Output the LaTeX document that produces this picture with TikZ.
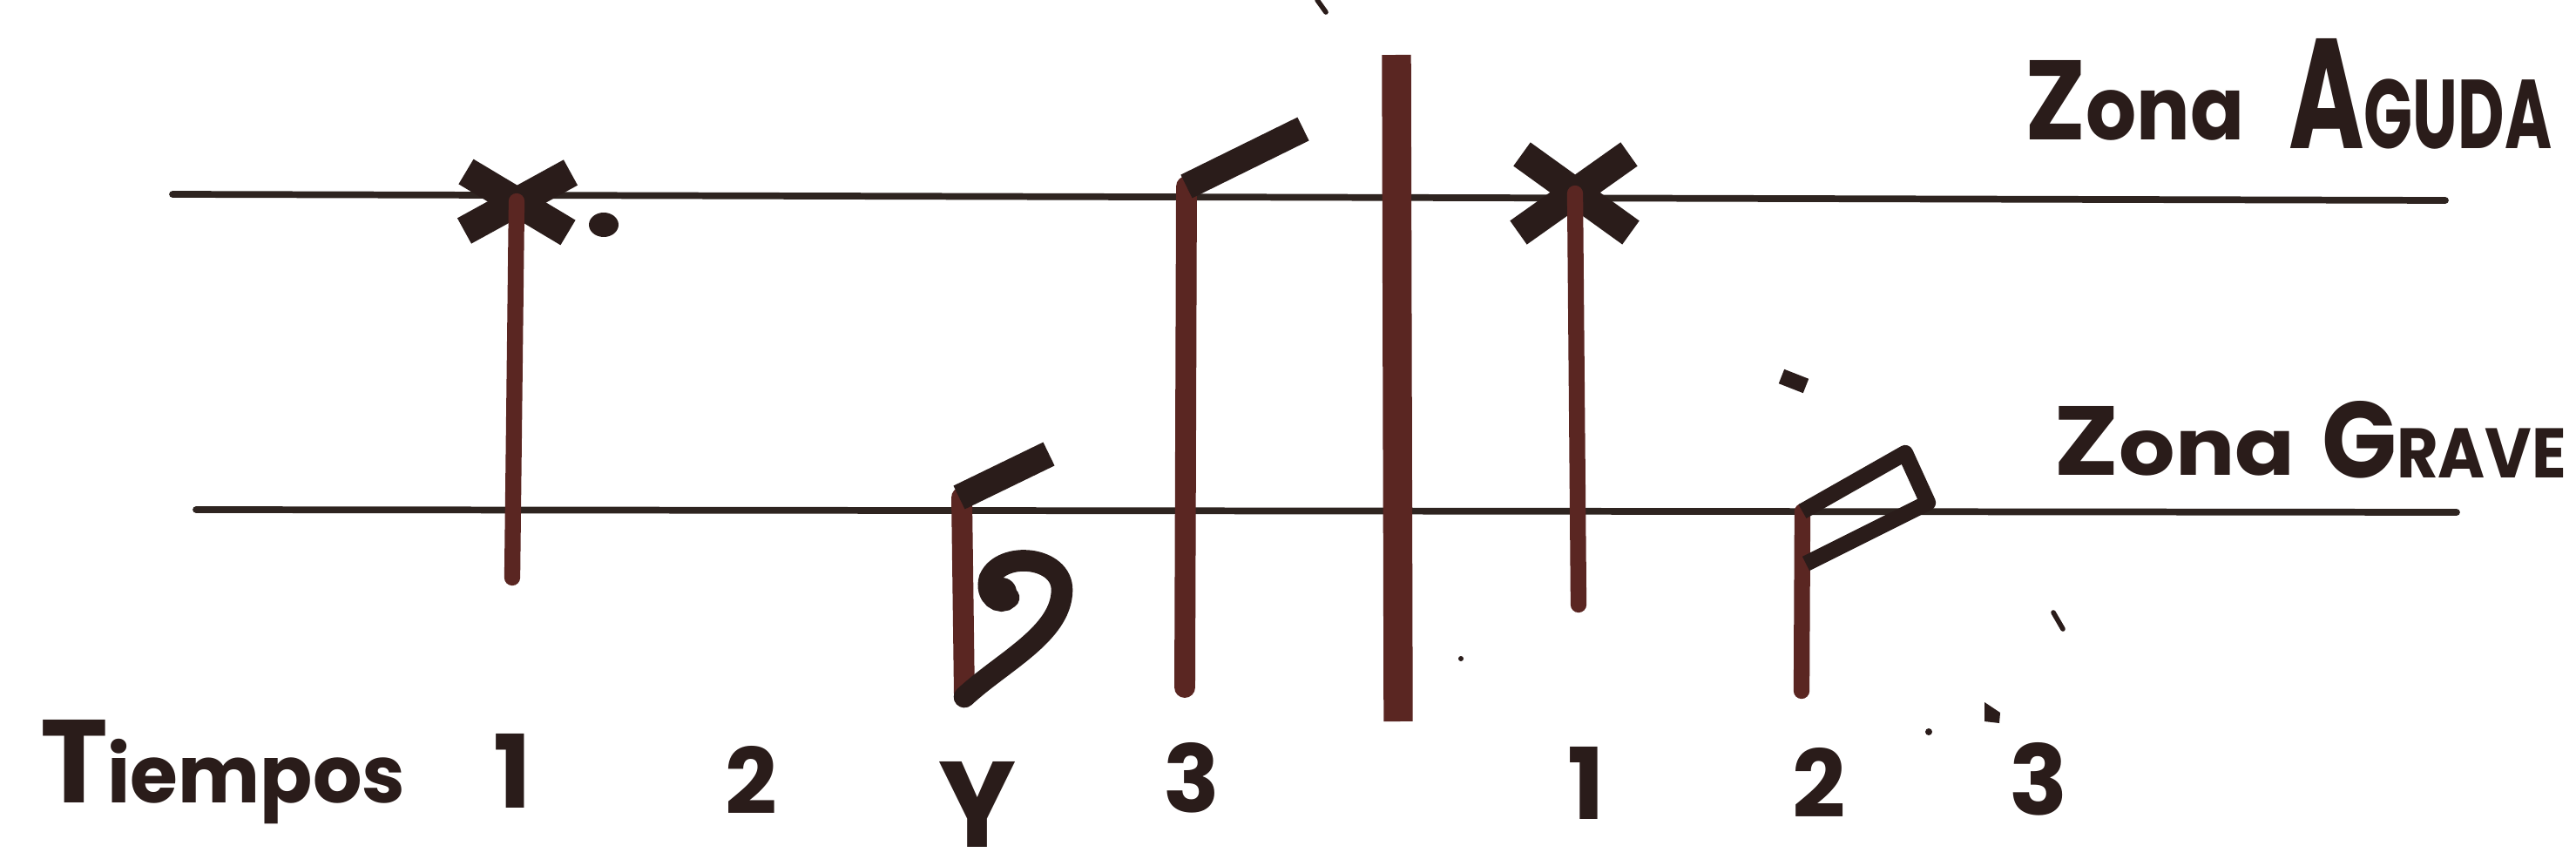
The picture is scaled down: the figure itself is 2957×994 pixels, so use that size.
\documentclass[tikz,border=0pt]{standalone}
\usepackage{fontspec}
\setmainfont{Poppins}
\usepackage{graphicx}
\usetikzlibrary{positioning, calc}
\definecolor{ink}{HTML}{2A1C1A}
\definecolor{crayon}{HTML}{5A2622}
\definecolor{staff}{HTML}{2E2420}
\tikzset{
  font=\bfseries,
  %
  zone/.style={draw=staff, line width=2.2pt, line cap=round},
  stem/.style={draw=crayon, line width=5.2pt, line cap=round},
  stemheavy/.style={stem, line width=6.8pt},
  barl/.style={draw=crayon, line width=9.5pt},
  flag/.style={draw=ink, line width=8.5pt, line cap=butt},
  cross/.style={draw=ink, line width=9.5pt, line cap=butt},
  frame/.style={draw=ink, line width=5.2pt, line join=round},
  curl/.style={draw=ink, line width=7pt, line cap=round},
  speck/.style={draw=ink, line width=1.6pt, line cap=round},
  %
  hand/.style={text=ink, inner sep=0pt, outer sep=0pt},
  word/.style={hand, anchor=base west},
  num/.style={hand, anchor=base},
}
% width, height, text
\newcommand{\hw}[3]{\resizebox{#1}{#2}{#3}}
\newcommand{\hwcap}[1]{{\fontsize{20}{20}\selectfont #1}}
\newcommand{\hwlow}[2]{{\fontsize{#1}{#1}\selectfont #2}}

\begin{document}
\begin{tikzpicture}[x=0.01cm, y=-0.01cm]

\fill[white] (0,0) rectangle (2957,994);
\useasboundingbox (0,0) rectangle (2957,994);

% ------------------------------------------------------------- zone lines
\coordinate (agL) at (198,223);  \coordinate (agR) at (2807,230);
\coordinate (grL) at (225,585);  \coordinate (grR) at (2820,588);
\draw[zone] (agL) -- (agR);
\draw[zone] (grL) -- (grR);

\node[word] (zona1) at (2324,161) {\hw{2.52cm}{0.91cm}{\hwcap{Z}\hwlow{15.5}{ona}}};
\node[word] (aguda) at (2627,171) {\hw{3.02cm}{1.26cm}{\hwcap{A}\hwlow{12.5}{GUDA}}};
\node[word] (zona2) at (2357,545) {\hw{2.77cm}{0.79cm}{\hwcap{Z}\hwlow{16}{ona}}};
\node[word] (grave) at (2665,548) {\hw{2.81cm}{0.88cm}{\hwcap{G}\hwlow{13}{RAVE}}};

% ---------------------------------------------------------------- measure 1
% crossed head with dot
\coordinate (x1) at (593,231);
\draw[cross] (535,197) -- (652,267);
\draw[cross] (533,265) -- (655,198);
\fill[ink] (693,258) ellipse (17 and 14);
\draw[stem] (x1) -- (588,663);

% stem with flag and curl
\coordinate (y2top) at (1104,571);
\coordinate (y2bot) at (1107,800);
\draw[stemheavy] (y2top) -- (y2bot);
\draw[flag] (1101,571) -- (1204,521);
\draw[curl] (y2bot) .. controls (1150,760) and (1218,728) .. (1219,678)
  .. controls (1220,638) and (1150,632) .. (1136,664)
  .. controls (1130,684) and (1148,696) .. (1158,686);
\fill[ink] (1150,680) circle (17);

% stem with flag
\coordinate (s3top) at (1362,214);
\coordinate (s3bot) at (1360,789);
\draw[stemheavy] (s3top) -- (s3bot);
\draw[flag] (s3top) -- (1496,148);

% ------------------------------------------------------------------ bar line
\coordinate (barT) at (1603,63);
\coordinate (barB) at (1605,828);
\draw[barl] (barT) -- (barB);

% ---------------------------------------------------------------- measure 2
\coordinate (x4) at (1808,222);
\draw[cross] (1747,177) -- (1872,267);
\draw[cross] (1743,267) -- (1870,177);
\draw[stem] (x4) -- (1812,694);

\coordinate (s5top) at (2069,587);
\coordinate (s5bot) at (2068,793);
\draw[stem] (s5top) -- (s5bot);
\draw[frame] (s5top) -- (2187,520) -- (2213,577) -- (2073,647);
\draw[flag, line width=5pt] (2045,432) -- (2073,443);

% specks
\fill[ink] (2278,806) -- (2296,818) -- (2295,830) -- (2278,828) -- cycle;
\fill[ink] (2214,840) circle (4);
\fill[ink] (1677,756) circle (3);
\draw[speck] (2357,703) -- (2368,722);
\draw[speck] (1512,0) -- (1522,14);

% ------------------------------------------------------------------ tiempos
\node[word] (tiempos) at (46,921)
  {\hw{4.19cm}{0.95cm}{\hwcap{T}\hwlow{13.5}{iempos}}};
\node[num] (t1) at (588,927)  {\hw{!}{0.85cm}{1}};
\node[num] (t2) at (862,934)  {\hw{!}{0.78cm}{2}};
\node[num] (ty) at (1122,972) {\hw{0.89cm}{0.98cm}{Y}};
\node[num] (t3) at (1368,932) {\hw{!}{0.80cm}{3}};
\node[num] (u1) at (1821,940) {\hw{!}{0.83cm}{1}};
\node[num] (u2) at (2088,938) {\hw{!}{0.80cm}{2}};
\node[num] (u3) at (2340,935) {\hw{!}{0.83cm}{3}};

\end{tikzpicture}
\end{document}
